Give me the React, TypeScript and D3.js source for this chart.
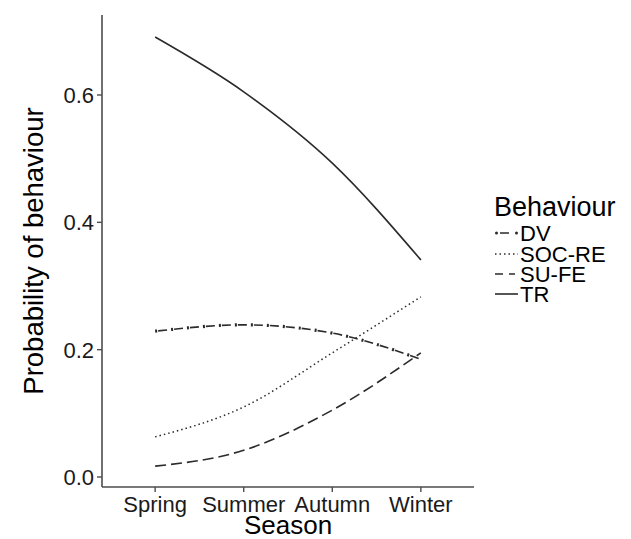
import React from "react";
import * as d3 from "d3";

const seasons = ["Spring", "Summer", "Autumn", "Winter"];
const behaviours = ["DV", "SOC-RE", "SU-FE", "TR"];
const dvValues = [0.229, 0.239, 0.226, 0.185];
const socReValues = [0.063, 0.11, 0.195, 0.283];
const suFeValues = [0.017, 0.042, 0.105, 0.195];
const trValues = [0.691, 0.605, 0.493, 0.341];
const yTicks = [0.0, 0.2, 0.4, 0.6];

const W = 631;
const H = 539;
const FONT = "'Liberation Sans', Arial, Helvetica, sans-serif";

export default function App() {
  const left = 102;
  const right = 474;
  const top = 15;
  const bottom = 487;

  const x = d3
    .scalePoint<string>()
    .domain(seasons)
    .range([left, right])
    .padding(0.6);
  const y = d3.scaleLinear().domain([0, 0.6]).range([477, 95]);

  const line = d3
    .line<number>()
    .x((_, i) => x(seasons[i]) as number)
    .y((d) => y(d))
    .curve(d3.curveMonotoneX);

  const series = [
    { name: "DV", values: dvValues },
    { name: "SOC-RE", values: socReValues },
    { name: "SU-FE", values: suFeValues },
    { name: "TR", values: trValues },
  ];

  const stroke = "#2b2b2b";
  const axisColor = "#4d4d4d";

  const renderLine = (name: string, d: string, key: string) => {
    if (name === "DV") {
      return (
        <g key={key}>
          <path d={d} fill="none" stroke={stroke} strokeWidth={1.6} strokeDasharray="9 7" strokeDashoffset={-3} />
          <path d={d} fill="none" stroke={stroke} strokeWidth={3.2} strokeDasharray="2 14" />
        </g>
      );
    }
    if (name === "SOC-RE") {
      return <path key={key} d={d} fill="none" stroke={stroke} strokeWidth={1.5} strokeDasharray="1.5 3" />;
    }
    if (name === "SU-FE") {
      return <path key={key} d={d} fill="none" stroke={stroke} strokeWidth={1.6} strokeDasharray="11 5" />;
    }
    return <path key={key} d={d} fill="none" stroke={stroke} strokeWidth={1.6} />;
  };

  const legendX = 495;
  const legendKeyW = 23;
  const legendRowY = [233, 254, 274, 294];

  return (
    <svg width={W} height={H} style={{ position: "absolute", left: 0, top: 0, background: "#fff" }} fontFamily={FONT}>
      <rect x={0} y={0} width={W} height={H} fill="#fff" />
      {/* axes */}
      <line x1={left} y1={top} x2={left} y2={bottom} stroke={axisColor} strokeWidth={1.6} />
      <line x1={left} y1={bottom} x2={right} y2={bottom} stroke={axisColor} strokeWidth={1.6} />
      {yTicks.map((t) => (
        <g key={t}>
          <line x1={left - 5} x2={left} y1={y(t)} y2={y(t)} stroke={axisColor} strokeWidth={1.4} />
          <text x={left - 8} y={y(t)} dy="0.36em" textAnchor="end" fontSize={22} fill="#1a1a1a">
            {t.toFixed(1)}
          </text>
        </g>
      ))}
      {seasons.map((s) => (
        <g key={s}>
          <line x1={x(s)} x2={x(s)} y1={bottom} y2={bottom + 5} stroke={axisColor} strokeWidth={1.4} />
          <text x={x(s)} y={512} textAnchor="middle" fontSize={22} fill="#1a1a1a">
            {s}
          </text>
        </g>
      ))}
      <text x={(left + right) / 2} y={534} textAnchor="middle" fontSize={26} fill="#000">
        Season
      </text>
      <text
        transform={`translate(43, ${(top + bottom) / 2}) rotate(-90)`}
        textAnchor="middle"
        fontSize={27.5}
        fill="#000"
      >
        Probability of behaviour
      </text>
      {/* lines */}
      {series.map((s) => renderLine(s.name, line(s.values) as string, s.name))}
      {/* legend */}
      <text x={legendX - 1} y={216} fontSize={27} fill="#000">
        Behaviour
      </text>
      {behaviours.map((b, i) => {
        const yy = legendRowY[i];
        const d = `M${legendX},${yy}L${legendX + legendKeyW},${yy}`;
        let keyEl;
        if (b === "DV") {
          keyEl = (
            <g>
              <path d={d} fill="none" stroke={stroke} strokeWidth={1.6} strokeDasharray="0 5 9 9" />
              <circle cx={legendX + 1.5} cy={yy} r={1.5} fill={stroke} />
              <circle cx={legendX + legendKeyW - 1.5} cy={yy} r={1.5} fill={stroke} />
            </g>
          );
        } else if (b === "SOC-RE") {
          keyEl = <path d={d} fill="none" stroke={stroke} strokeWidth={1.4} strokeDasharray="1.5 3" />;
        } else if (b === "SU-FE") {
          keyEl = <path d={d} fill="none" stroke={stroke} strokeWidth={1.5} strokeDasharray="8 6 6 9" />;
        } else {
          keyEl = <path d={d} fill="none" stroke={stroke} strokeWidth={1.6} />;
        }
        return (
          <g key={b}>
            {keyEl}
            <text x={legendX + legendKeyW + 2} y={yy} dy="0.36em" fontSize={22} fill="#000">
              {b}
            </text>
          </g>
        );
      })}
    </svg>
  );
}
